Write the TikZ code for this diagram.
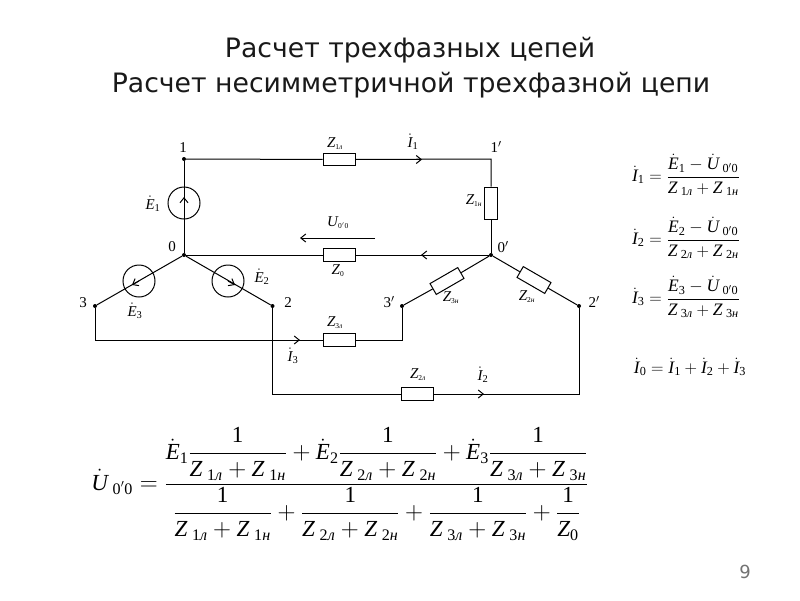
\documentclass[tikz,border=0pt]{standalone}
\usepackage{amsmath}
\usepackage{fontspec}
\setmainfont{Liberation Serif}
\newfontfamily\titlefont{DejaVu Sans}
\usetikzlibrary{arrows.meta}
\newcommand{\itx}[1]{\text{\itshape #1}}
\newcommand{\Zl}[1]{\itx{Z}_{\;\text{#1\itshape л}}}
\newcommand{\Zn}[1]{\itx{Z}_{\;\text{#1\itshape н}}}
\newcommand{\Zs}[1]{\itx{Z}_{\scriptscriptstyle\text{#1}}}
\newcommand{\Zsum}[1]{\Zl{#1}+\Zn{#1}}
\newcommand{\dE}[1]{\dot{\itx{E}}_{\text{#1}}}
\newcommand{\dI}[1]{\dot{\itx{I}}_{\text{#1}}}
\newcommand{\dU}{\dot{\itx{U}}_{\;\text{0$'$0}}}
\tikzset{
    wire/.style={line width=1pt},
    arr/.style={wire, -{Straight Barb[length=5pt,width=8pt]}},
    res/.style={draw, wire, fill=white, minimum width=32pt, minimum height=12.5pt, inner sep=0pt},
    src/.style={draw, wire, circle, minimum size=32pt, inner sep=0pt},
    dot/.style={circle, fill=black, minimum size=4pt, inner sep=0pt},
    lab/.style={inner sep=0pt, font=\fontsize{15}{17}\selectfont},
    sym/.style={inner sep=0pt, font=\fontsize{15}{17}\selectfont},
    eqn/.style={inner sep=0pt, font=\fontsize{17.5}{20}\selectfont},
    eqnbig/.style={inner sep=0pt, font=\fontsize{23}{27}\selectfont},
    ttl/.style={inner sep=0pt, font=\titlefont\fontsize{26.7}{31}\selectfont, text=black!90}
}
\begin{document}
\begin{tikzpicture}[x=1pt,y=-1pt]
    \useasboundingbox (0,0) rectangle (800,600);
    % title
    \node[ttl] (title1) at (410,50) {Расчет трехфазных цепей};
    \node[ttl] (title2) at (411,85) {Расчет несимметричной трехфазной цепи};
    % junctions
    \node[dot] (n1) at (184,159) {};
    \node[dot] (n0) at (184,255) {};
    \node[dot] (n3) at (95,306) {};
    \node[dot] (n2) at (272.5,306) {};
    \node[dot] (np0) at (491,255) {};
    \node[dot] (np3) at (402,306) {};
    \node[dot] (np2) at (579,306) {};
    \coordinate (cp1) at (491,159);
    % sources
    \node[src] (e1) at (184,203) {};
    \node[src] (e2) at (228,281) {};
    \node[src] (e3) at (139,281) {};
    % impedances
    \node[res] (z1l) at (339,159.5) {};
    \node[res] (z0) at (339,255) {};
    \node[res] (z3l) at (339,340) {};
    \node[res] (z2l) at (417,394) {};
    \node[res, rotate=90] (z1n) at (491,203) {};
    \node[res, rotate=30] (z3n) at (447,281) {};
    \node[res, rotate=-30] (z2n) at (534,280) {};
    % wires
    \draw[wire] (n1) -- (n0);
    \draw[wire] (n0) -- (n3);
    \draw[wire] (n0) -- (n2);
    \draw[wire] (n1) -- (z1l);
    \draw[wire] (z1l) -- (cp1) -- (z1n);
    \draw[wire] (z1n) -- (np0);
    \draw[wire] (n0) -- (z0);
    \draw[wire] (z0) -- (np0);
    \draw[wire] (np0) -- (z3n);
    \draw[wire] (z3n) -- (np3);
    \draw[wire] (np0) -- (z2n);
    \draw[wire] (z2n) -- (np2);
    \draw[wire] (n3) |- (z3l);
    \draw[wire] (z3l) -| (np3);
    \draw[wire] (n2) |- (z2l);
    \draw[wire] (z2l) -| (np2);
    % arrows
    \coordinate (tipe1) at (184,197);
    \coordinate (tipe2) at (235,285);
    \coordinate (tipe3) at (132,285);
    \draw[arr] (e1.center) -- (tipe1);
    \draw[arr] (e2.center) -- (tipe2);
    \draw[arr] (e3.center) -- (tipe3);
    \coordinate (tipi1) at (422,159.5);
    \coordinate (tipi0) at (421,255);
    \coordinate (tipi3) at (300,340);
    \coordinate (tipi2) at (484,394);
    \draw[arr] (z1l) -- (tipi1);
    \draw[arr] (np0) -- (tipi0);
    \draw[arr] (n3 |- z3l) -- (tipi3);
    \draw[arr] (z2l) -- (tipi2);
    \coordinate (ustart) at (375,238);
    \coordinate (uend) at (300,238);
    \draw[arr] (ustart) -- (uend);
    % node numbers
    \node[lab] (l1) at (183,148) {1};
    \node[lab] (l0) at (172,247) {0};
    \node[lab] (l3) at (83,303) {3};
    \node[lab] (l2) at (288,303) {2};
    \node[lab] (lp1) at (496,147) {1$'$};
    \node[lab] (lp0) at (503,247) {0$'$};
    \node[lab] (lp3) at (389,302) {3$'$};
    \node[lab] (lp2) at (594,302) {2$'$};
    % symbols
    \node[sym] (le1) at (153,204) {$\dE{1}$};
    \node[sym] (le2) at (262,277) {$\dE{2}$};
    \node[sym] (le3) at (135,311) {$\dE{3}$};
    \node[sym] (li1) at (413,142) {$\dI{1}$};
    \node[sym] (li2) at (483,375) {$\dI{2}$};
    \node[sym] (li3) at (293,356) {$\dI{3}$};
    \node[sym] (lz1l) at (335,144) {$\Zs{1\itshape л}$};
    \node[sym] (lz1n) at (474,201) {$\Zs{1\itshape н}$};
    \node[sym] (lz3l) at (335,323) {$\Zs{3\itshape л}$};
    \node[sym] (lz2l) at (418,375) {$\Zs{2\itshape л}$};
    \node[sym] (lz3n) at (451,298) {$\Zs{3\itshape н}$};
    \node[sym] (lz2n) at (527,297) {$\Zs{2\itshape н}$};
    \node[sym] (lz0) at (338,271) {$\Zs{0}$};
    \node[sym] (lu) at (338,223) {$\itx{U}_{\scriptscriptstyle\text{0$'$0}}$};
    % formulas
    \node[eqn] (eq1) at (686,175) {$\dI{1}=\dfrac{\dE{1}-\dU}{\Zsum{1}}$};
    \node[eqn] (eq2) at (686,238) {$\dI{2}=\dfrac{\dE{2}-\dU}{\Zsum{2}}$};
    \node[eqn] (eq3) at (686,297) {$\dI{3}=\dfrac{\dE{3}-\dU}{\Zsum{3}}$};
    \node[eqn] (eq0) at (690,367) {$\dI{0}=\dI{1}+\dI{2}+\dI{3}$};
    \node[eqnbig] (equ) at (340,484) {$\dU=\dfrac{\dE{1}\dfrac{\text{1}}{\Zsum{1}}+\dE{2}\dfrac{\text{1}}{\Zsum{2}}+\dE{3}\dfrac{\text{1}}{\Zsum{3}}}{\dfrac{\text{1}}{\Zsum{1}}+\dfrac{\text{1}}{\Zsum{2}}+\dfrac{\text{1}}{\Zsum{3}}+\dfrac{\text{1}}{\itx{Z}_{\text{0}}}}$};
    % page number
    \node[inner sep=0pt, font=\titlefont\fontsize{18}{21}\selectfont, text=black!55] (page) at (745,572) {9};
\end{tikzpicture}
\end{document}
